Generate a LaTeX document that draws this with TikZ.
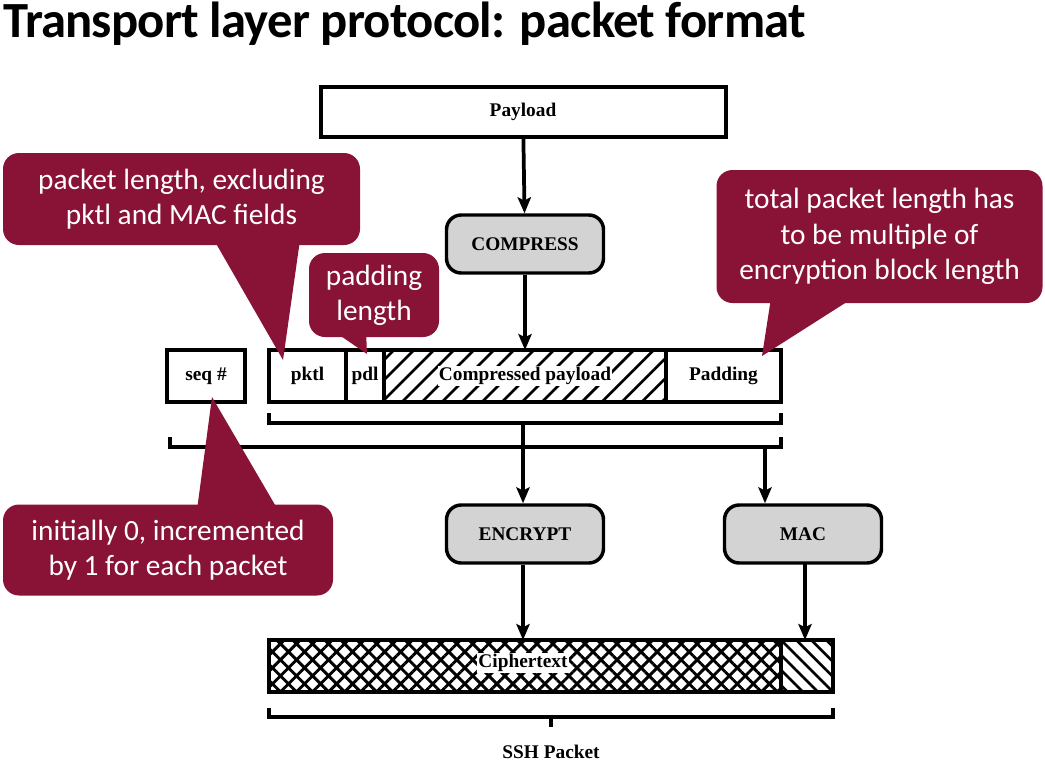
\documentclass[tikz,border=0pt]{standalone}
\usepackage{fontspec}
\setmainfont{Liberation Serif}
\newfontfamily\slidefont{Carlito}
\newfontfamily\titlefont[LetterSpace=-1.5]{Carlito}
\usepackage{tikz}
\usetikzlibrary{positioning, arrows.meta, patterns.meta}
\definecolor{note-red}{HTML}{891336}
\definecolor{proc-gray}{HTML}{D3D3D3}
\newdimen\px \px=0.75pt

\begin{document}
\begin{tikzpicture}[x=0.75pt, y=-0.75pt,
    field/.style={draw, line width=3pt, minimum height=52\px, inner sep=0pt, outer sep=0pt,
                  font=\bfseries\fontsize{14.5}{16}\selectfont},
    proc/.style={draw, line width=2.6pt, fill=proc-gray, rounded corners=11pt,
                 minimum width=157\px, minimum height=58\px,
                 font=\bfseries\fontsize{14.5}{16}\selectfont},
    note/.style={fill=note-red, rounded corners=12pt, text=white, align=center,
                 inner sep=0pt, font=\slidefont\fontsize{22}{26.5}\selectfont},
    flow/.style={line width=2.8pt, -{Stealth[length=12pt, width=10pt, inset=2.5pt]}},
    bracket/.style={line width=3pt},
    lbl/.style={fill=white, inner sep=1pt, font=\bfseries\fontsize{14.5}{16}\selectfont},
]
    \useasboundingbox (0,0) rectangle (1045,764);

    \node[anchor=north west, inner sep=0pt,
          font=\titlefont\bfseries\fontsize{38}{40}\selectfont] (title) at (3,2)
        {Transport layer protocol: packet format};

    % upper part
    \node[field, minimum width=405\px, minimum height=50\px] (payload) at (523,112) {Payload};
    \node[proc] (compress) at (525,244) {COMPRESS};

    \node[field, minimum width=78\px] (seq) at (206,376) {seq \#};
    \node[field, minimum width=77\px, anchor=west] (pktl) at (269,376) {pktl};
    \node[field, minimum width=38\px, anchor=west] (pdl) at (pktl.east) {pdl};
    \node[field, minimum width=282\px, anchor=west,
          pattern={Lines[angle=45, distance=10.6pt, line width=2pt]}] (cpay) at (pdl.east) {};
    \node[lbl] (cpaytext) at (cpay) {Compressed payload};
    \node[field, minimum width=115\px, anchor=west] (pad) at (cpay.east) {Padding};

    \draw[flow] (payload) -- (compress);
    \draw[flow] (compress) -- (compress.south |- cpay.north);

    \draw[bracket] (269,413) |- (781,423) -- (781,413);
    \draw[bracket] (170,437) |- (781,447) -- (781,437);
    \coordinate (br1) at (523,423);
    \coordinate (br2) at (765,447);

    % lower part
    \node[proc] (encrypt) at (525,534) {ENCRYPT};
    \node[proc] (mac) at (803,534) {MAC};

    \node[field, minimum width=512\px, anchor=west,
          pattern={Hatch[angle=45, distance=8.5pt, line width=2.2pt]}] (cipher) at (269,666) {};
    \node[lbl] (ciphertext) at (523,663) {Ciphertext};
    \node[field, minimum width=52\px, anchor=west,
          pattern={Lines[angle=-45, distance=8pt, line width=2pt]}] (tag) at (cipher.east) {};

    \draw[flow] (br1) -- (br1 |- encrypt.north);
    \draw[flow] (br2) -- (br2 |- mac.north);
    \draw[flow] (br1 |- encrypt.south) -- (br1 |- cipher.north);
    \draw[flow] (805,563) -- (805,640);

    \draw[bracket] (269,708) |- (833,717) -- (833,708);
    \draw[bracket] (551,717) -- (551,727);
    \node[font=\bfseries\fontsize{14.5}{16}\selectfont] (ssh) at (551,752) {SSH Packet};

    % callouts
    \node[note, minimum width=357\px, minimum height=92\px] (note1) at (181.5,199)
        {packet length, excluding\\pktl and MAC fields};
    \fill[note-red] (214,240) -- (283,360) -- (300,240) -- cycle;

    \node[note, minimum width=130\px, minimum height=84\px] (note2) at (374,295)
        {padding\\length};
    \fill[note-red] (332,330) -- (367,354) -- (366,330) -- cycle;

    \node[note, minimum width=326\px, minimum height=133\px] (note3) at (879.5,236.5)
        {total packet length has\\to be multiple of\\encryption block length};
    \fill[note-red] (771,298) -- (762,356) -- (853,298) -- cycle;

    \node[note, minimum width=330\px, minimum height=91\px] (note4) at (168,550)
        {initially 0, incremented\\by 1 for each packet};
    \fill[note-red] (197,510) -- (212,397) -- (278,510) -- cycle;
\end{tikzpicture}
\end{document}
